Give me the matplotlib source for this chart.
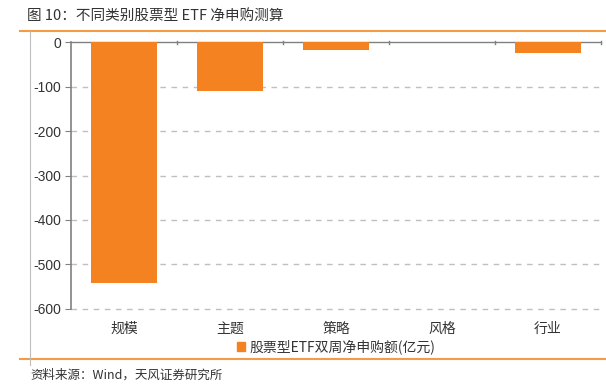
import matplotlib
matplotlib.use("Agg")
import matplotlib.pyplot as plt
from matplotlib.lines import Line2D
from matplotlib.patches import Patch

plt.rcParams['font.family'] = ['Noto Sans CJK SC', 'DejaVu Sans']

categories = ['规模', '主题', '策略', '风格', '行业']
values = [-541, -110, -17, 0, -23]
yticks = [0, -100, -200, -300, -400, -500, -600]
series_name = '股票型ETF双周净申购额(亿元)'
title = '图 10：不同类别股票型 ETF 净申购测算'
source = '资料来源：Wind，天风证券研究所'

bar_color = '#F58220'
W, H = 606, 386
fig = plt.figure(figsize=(W/100, H/100), dpi=100)

ax = fig.add_axes([71/W, 1-308.7/H, (601-71)/W, (308.7-42.3)/H])
x = list(range(len(categories)))
ax.bar(x, values, width=0.62, color=bar_color, linewidth=0, zorder=3)
ax.set_xlim(-0.5, len(categories)-0.5)
ax.set_ylim(-600, 0)
ax.set_yticks(yticks)
ax.set_yticklabels([str(v) for v in yticks], family=['Liberation Sans', 'DejaVu Sans'], fontsize=10, color='#333333')
for v in yticks[1:]:
    ax.axhline(v, color='#BFBFBF', linestyle=(0, (4, 4)), linewidth=1, zorder=1, clip_on=False)

ax.set_xticks([])
for s in ['right', 'bottom']:
    ax.spines[s].set_visible(False)
ax.spines['left'].set_color('#808080')
ax.spines['left'].set_linewidth(1.2)
ax.spines['top'].set_color('#808080')
ax.spines['top'].set_linewidth(1.0)
ax.tick_params(axis='y', length=4, color='#808080', pad=3)
# category boundary ticks on zero line
for b in [i + 0.5 for i in range(len(categories))]:
    ax.plot([b, b], [4, -4], color='#808080', linewidth=1, clip_on=False, zorder=4)
# category labels below axis
for i, c in enumerate(categories):
    ax.text(i, -629, c, ha='center', va='top', fontsize=10,
            color='#333333', clip_on=False)

# legend
ax.legend(handles=[Patch(color=bar_color, label=series_name)], loc='center',
          bbox_to_anchor=(0.5, (308.7-347)/(308.7-42.3)), frameon=False, fontsize=10,
          handlelength=0.6, handleheight=0.6, handletextpad=0.3, labelcolor='#333333')

# frame decorations
fig.add_artist(Line2D([20/W, 1], [1-31/H, 1-31/H], color='#F59A45', linewidth=1.5))
fig.add_artist(Line2D([20/W, 1], [1-359/H, 1-359/H], color='#F59A45', linewidth=1.5))
fig.add_artist(Line2D([30/W, 30/W], [1-365/H, 1-31/H], color='#BFBFBF', linewidth=0.8))
fig.text(27/W, 1-17/H, title, fontsize=10.5, color='#333333', va='center', ha='left', fontweight='medium')
fig.text(30/W, 1-375/H, source, fontsize=9, color='#333333', va='center', ha='left')

fig.savefig('out.png', dpi=100)
